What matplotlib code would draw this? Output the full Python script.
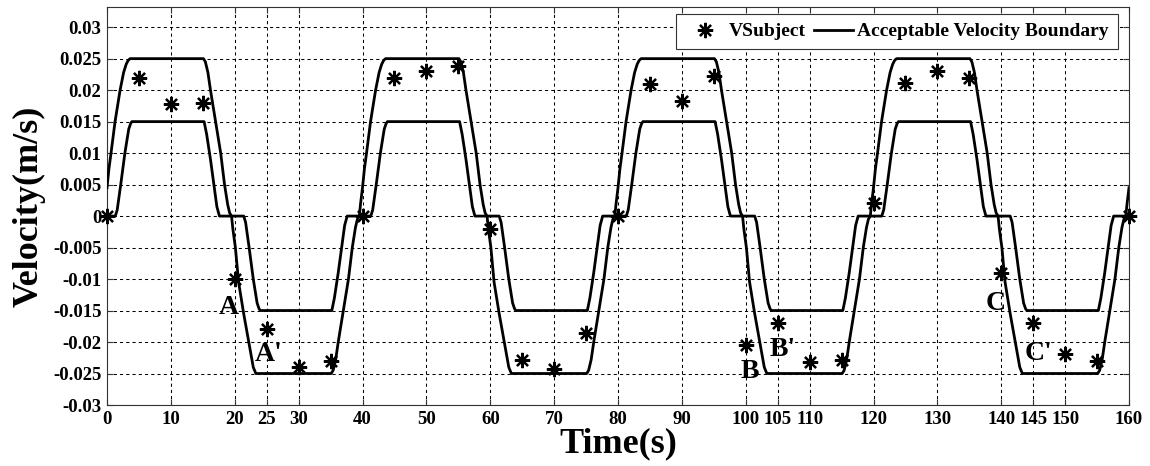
import numpy as np
import matplotlib
matplotlib.use("Agg")
import matplotlib.pyplot as plt
from matplotlib.lines import Line2D

plt.rcParams['font.family'] = ['Liberation Serif', 'DejaVu Serif']
plt.rcParams['font.weight'] = 'bold'

# Measured subject velocity, sampled every 5 s
t_subject = [0, 5, 10, 15, 20, 25, 30, 35, 40, 45, 50, 55, 60, 65, 70, 75, 80,
             85, 90, 95, 100, 105, 110, 115, 120, 125, 130, 135, 140, 145, 150, 155, 160]
v_subject = [0.0, 0.0220, 0.0178, 0.0180, -0.0100, -0.0179, -0.0240, -0.0230,
             0.0, 0.0220, 0.0230, 0.0239, -0.0021, -0.0229, -0.0243, -0.0186,
             0.0, 0.0210, 0.0182, 0.0223, -0.0204, -0.0170, -0.0232, -0.0229,
             0.0021, 0.0212, 0.0231, 0.0219, -0.0090, -0.0170, -0.0219, -0.0230, 0.0]

# Acceptable velocity boundary, one 40 s cycle (upper and lower limits)
period = 40.0
n_cycles = 4
upper_t = [0, 0.3, 0.63, 1.26, 2.05, 2.6, 3.0, 3.3, 3.6, 15.1, 15.4, 15.8, 16.2, 17.0,
           17.8, 18.4, 18.9, 19.2, 19.5, 21.4, 21.7, 22.25, 22.9, 23.5, 23.8, 24.0,
           35.2, 35.6, 36.2, 36.8, 37.2, 37.6, 39.5, 39.7, 40.0]
upper_v = [0.0045, 0.0075, 0.010, 0.015, 0.020, 0.0228, 0.0241, 0.0247, 0.025, 0.025,
           0.0245, 0.0228, 0.020, 0.015, 0.010, 0.005, 0.0018, 0.0005, 0.0, 0.0,
           -0.001, -0.005, -0.010, -0.0138, -0.0147, -0.015, -0.015, -0.013, -0.009,
           -0.0045, -0.0015, 0.0, 0.0, 0.002, 0.0045]
lower_t = [0, 1.3, 1.6, 2.15, 2.8, 3.4, 3.7, 3.9, 15.2, 15.6, 16.2, 16.8, 17.2, 17.6,
           19.5, 19.7, 20.1, 20.6, 21.4, 22.2, 22.9, 23.3, 35.1, 35.4, 35.8, 36.2,
           37.0, 37.8, 38.4, 38.9, 39.2, 39.5, 40.0]
lower_v = [0.0, 0.0, 0.001, 0.005, 0.010, 0.0138, 0.0147, 0.015, 0.015, 0.013, 0.009,
           0.0045, 0.0015, 0.0, 0.0, -0.002, -0.005, -0.0105, -0.0155, -0.020, -0.024,
           -0.025, -0.025, -0.0245, -0.0228, -0.020, -0.015, -0.010, -0.005, -0.0018,
           -0.0005, 0.0, 0.0]

x_ticks = [0, 10, 20, 25, 30, 40, 50, 60, 70, 80, 90, 100, 105, 110, 120, 130,
           140, 145, 150, 160]
y_ticks = [-0.03, -0.025, -0.02, -0.015, -0.01, -0.005, 0, 0.005, 0.01, 0.015,
           0.02, 0.025, 0.03]
y_ticklabels = ['-0.03', '-0.025', '-0.02', '-0.015', '-0.01', '-0.005', '0',
                '0.005', '0.01', '0.015', '0.02', '0.025', '0.03']

annotations = [("A", 19.0, -0.0145), ("A'", 25.3, -0.0220),
               ("B", 100.6, -0.0247), ("B'", 105.8, -0.0212),
               ("C", 139.1, -0.0139), ("C'", 145.8, -0.0218)]


def repeat_cycle(ts, vs):
    ts = np.asarray(ts)
    vs = np.asarray(vs)
    tt = np.concatenate([ts[:-1] + k * period for k in range(n_cycles)] + [ts[-1:] + (n_cycles - 1) * period])
    vv = np.concatenate([vs[:-1] for _ in range(n_cycles)] + [vs[-1:]])
    return tt, vv


fig = plt.figure(figsize=(11.5, 4.66), dpi=100)
ax = fig.add_axes([107 / 1150, 1 - 405 / 466, (1129 - 107) / 1150, (405 - 7) / 466])

ut, uv = repeat_cycle(upper_t, upper_v)
lt, lv = repeat_cycle(lower_t, lower_v)
ax.plot(ut, uv, color='black', lw=2.0, solid_joinstyle='round', zorder=3)
ax.plot(lt, lv, color='black', lw=2.0, solid_joinstyle='round', zorder=3)

star = (8, 2, 0)
ax.plot(t_subject, v_subject, linestyle='none', marker=star, ms=11, mew=1.6,
        color='black', zorder=4, clip_on=False)

for label, tx, vy in annotations:
    ax.text(tx, vy, label, fontsize=20, fontweight='bold', ha='center', va='center',
            zorder=5)

ax.set_xlim(0, 160)
ax.set_ylim(-0.03, 0.0332)
ax.set_xticks(x_ticks)
ax.set_xticklabels([str(v) for v in x_ticks])
ax.set_yticks(y_ticks)
ax.set_yticklabels(y_ticklabels)
ax.tick_params(direction='in', length=4, width=0.8, top=True, right=True,
               labelsize=13.5, pad=4, colors='#333333', labelcolor='black')
for lab in ax.get_xticklabels() + ax.get_yticklabels():
    lab.set_fontweight('bold')
for sp in ax.spines.values():
    sp.set_linewidth(0.8)
    sp.set_color('#333333')

ax.grid(True, color='black', linestyle=(0, (3, 3)), linewidth=0.75)
ax.set_axisbelow(True)

ax.set_xlabel('Time(s)', fontsize=26, fontweight='bold', labelpad=0)
ax.set_ylabel('Velocity(m/s)', fontsize=26, fontweight='bold', labelpad=5)

handles = [Line2D([], [], linestyle='none', marker=star, ms=11, mew=1.6, color='black'),
           Line2D([], [], color='black', lw=2.0)]
leg = ax.legend(handles, ['VSubject', 'Acceptable Velocity Boundary'], ncol=2,
                loc='upper right', bbox_to_anchor=((1117.7 - 107) / 1022, (405 - 14) / 398),
                borderaxespad=0, handlelength=2.0, handletextpad=0.25,
                columnspacing=0.4, borderpad=0.45, fancybox=False, framealpha=1,
                edgecolor='#333333', prop={'weight': 'bold', 'size': 14})
leg.get_frame().set_linewidth(0.8)

fig.savefig('out.png', dpi=100)
